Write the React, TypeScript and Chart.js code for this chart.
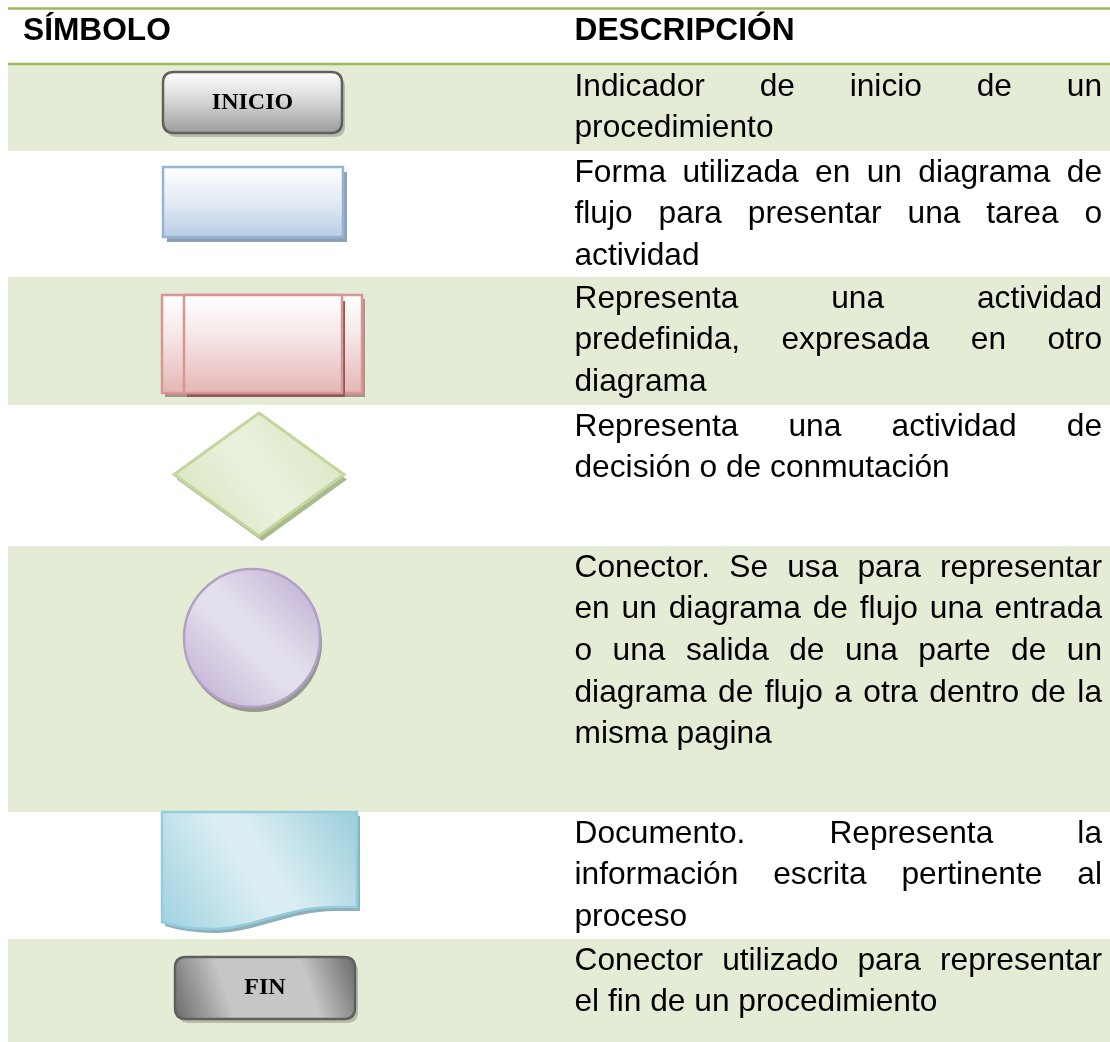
import React, { useEffect, useRef } from 'react';
import { Chart, registerables } from 'chart.js';

Chart.register(...registerables);

// ---------- DATA ----------
const headers = ['SÍMBOLO', 'DESCRIPCIÓN'];
const symbolKinds = ['inicio', 'proceso', 'predefinido', 'decision', 'conector', 'documento', 'fin'];
const symbolTexts = ['INICIO', '', '', '', '', '', 'FIN'];
const descriptions: string[][] = [
  ['Indicador de inicio de un', 'procedimiento'],
  ['Forma utilizada en un diagrama de', 'flujo para presentar una tarea o', 'actividad'],
  ['Representa una actividad', 'predefinida, expresada en otro', 'diagrama'],
  ['Representa una actividad de', 'decisión o de conmutación'],
  [
    'Conector. Se usa para representar',
    'en un diagrama de flujo una entrada',
    'o una salida de una parte de un',
    'diagrama de flujo a otra dentro de la',
    'misma pagina',
  ],
  ['Documento. Representa la', 'información escrita pertinente al', 'proceso'],
  ['Conector utilizado para representar', 'el fin de un procedimiento'],
];
const rowShaded = [true, false, true, false, true, false, true];

// ---------- LAYOUT (page units) ----------
const PAGE_W = 1110;
const PAGE_H = 1042;
const TABLE_LEFT = 8;
const TOP_RULE_Y = 8.5;
const HEADER_RULE_Y = 64;
const RULE_W = 2.5;
const ROW_EDGES = [65, 151, 277, 405, 546, 812, 939, 1042];
const HEADER_X = [23, 574.5];
const HEADER_BASELINE = 39.5;
const TEXT_LEFT = 574.5;
const TEXT_RIGHT = 1102;
const FIRST_BASELINE = 30.5;
const LINE_H = 41.7;
// symbol boxes [x0, y0, x1, y1]
const SYMBOL_BOX: number[][] = [
  [163, 72, 342, 133],
  [163, 167, 343, 237],
  [162, 295, 362, 393],
  [174, 413, 344, 536],
  [184, 569, 320, 707],
  [162, 812, 357, 929],
  [175, 957, 355, 1019],
];

const GREEN_RULE = '#9bbb59';
const ROW_GREEN = '#e4ecd6';
const FONT_BODY = '31.7px "Liberation Sans", Arial, sans-serif';
const FONT_HEAD = 'bold 31.7px "Liberation Sans", Arial, sans-serif';
const FONT_SYM = 'bold 24px "Liberation Serif", "Times New Roman", serif';

function roundRect(ctx: CanvasRenderingContext2D, x: number, y: number, w: number, h: number, r: number) {
  ctx.beginPath();
  ctx.moveTo(x + r, y);
  ctx.lineTo(x + w - r, y);
  ctx.quadraticCurveTo(x + w, y, x + w, y + r);
  ctx.lineTo(x + w, y + h - r);
  ctx.quadraticCurveTo(x + w, y + h, x + w - r, y + h);
  ctx.lineTo(x + r, y + h);
  ctx.quadraticCurveTo(x, y + h, x, y + h - r);
  ctx.lineTo(x, y + r);
  ctx.quadraticCurveTo(x, y, x + r, y);
  ctx.closePath();
}

function diagGrad(ctx: CanvasRenderingContext2D, x0: number, y0: number, x1: number, y1: number, edge: string, mid: string, edge2?: string) {
  const g = ctx.createLinearGradient(x0, y1, x1, y0);
  g.addColorStop(0, edge);
  g.addColorStop(0.45, mid);
  g.addColorStop(0.55, mid);
  g.addColorStop(1, edge2 || edge);
  return g;
}

function drawJustified(ctx: CanvasRenderingContext2D, line: string, x0: number, x1: number, y: number, justify: boolean) {
  const words = line.split(' ');
  if (!justify || words.length < 2) {
    ctx.fillText(line, x0, y);
    return;
  }
  const widths = words.map((w) => ctx.measureText(w).width);
  const total = widths.reduce((a, b) => a + b, 0);
  const gap = (x1 - x0 - total) / (words.length - 1);
  let x = x0;
  words.forEach((w, i) => {
    ctx.fillText(w, x, y);
    x += widths[i] + gap;
  });
}

function drawSymbol(ctx: CanvasRenderingContext2D, kind: string, label: string, x0: number, y0: number, x1: number, y1: number, cx: number, cy: number) {
  const w = x1 - x0;
  const h = y1 - y0;
  ctx.save();
  if (kind === 'inicio' || kind === 'fin') {
    ctx.fillStyle = 'rgba(0,0,0,0.2)';
    roundRect(ctx, x0 + 3, y0 + 4, w, h, 11);
    ctx.fill();
    let g: CanvasGradient;
    if (kind === 'inicio') {
      g = ctx.createLinearGradient(0, y0, 0, y1);
      g.addColorStop(0, '#fefefe');
      g.addColorStop(0.45, '#d9d9d9');
      g.addColorStop(1, '#9c9c9c');
    } else {
      g = ctx.createLinearGradient(x0, y1, x1, y0);
      g.addColorStop(0, '#6a6a6a');
      g.addColorStop(0.3, '#c6c6c6');
      g.addColorStop(0.72, '#c6c6c6');
      g.addColorStop(1, '#6a6a6a');
    }
    roundRect(ctx, x0, y0, w, h, 11);
    ctx.fillStyle = g;
    ctx.fill();
    ctx.lineWidth = 2.5;
    ctx.strokeStyle = '#5f5f5f';
    ctx.stroke();
    ctx.fillStyle = '#000';
    ctx.font = FONT_SYM;
    ctx.textAlign = 'center';
    ctx.textBaseline = 'alphabetic';
    ctx.fillText(label, cx, cy + 6);
  } else if (kind === 'proceso') {
    ctx.fillStyle = '#90a1b7';
    ctx.fillRect(x0 + 4, y0 + 5, w, h);
    const g = ctx.createLinearGradient(0, y0, 0, y1);
    g.addColorStop(0, '#ffffff');
    g.addColorStop(0.5, '#e3eaf4');
    g.addColorStop(1, '#b9cde5');
    ctx.fillStyle = g;
    ctx.fillRect(x0, y0, w, h);
    ctx.lineWidth = 2.5;
    ctx.strokeStyle = '#95b3d7';
    ctx.strokeRect(x0, y0, w, h);
  } else if (kind === 'predefinido') {
    const mkGrad = () => {
      const g = ctx.createLinearGradient(0, y0, 0, y1);
      g.addColorStop(0, '#ffffff');
      g.addColorStop(0.4, '#f6e8e8');
      g.addColorStop(1, '#e5b6b5');
      return g;
    };
    const ix0 = x0 + 22;
    const ix1 = x1 - 20;
    ctx.fillStyle = '#a99390';
    ctx.fillRect(x0 + 3, y0 + 4, w, h);
    ctx.fillStyle = mkGrad();
    ctx.fillRect(x0, y0, w, h);
    ctx.lineWidth = 2.5;
    ctx.strokeStyle = '#d99594';
    ctx.strokeRect(x0, y0, w, h);
    ctx.fillStyle = '#8c5a5a';
    ctx.fillRect(ix0 + 3, y0 + 6, ix1 - ix0, h - 2);
    ctx.fillStyle = mkGrad();
    ctx.fillRect(ix0, y0, ix1 - ix0, h);
    ctx.strokeRect(ix0, y0, ix1 - ix0, h);
  } else if (kind === 'decision') {
    const path = (dx: number, dy: number) => {
      ctx.beginPath();
      ctx.moveTo(cx + dx, y0 + dy);
      ctx.lineTo(x1 + dx, cy + dy);
      ctx.lineTo(cx + dx, y1 + dy);
      ctx.lineTo(x0 + dx, cy + dy);
      ctx.closePath();
    };
    path(3, 5);
    ctx.fillStyle = '#a9ba93';
    ctx.fill();
    path(0, 0);
    ctx.fillStyle = diagGrad(ctx, x0, y0, x1, y1, '#d3e2b7', '#e9f0dc', '#d6e4bc');
    ctx.fill();
    ctx.lineWidth = 3;
    ctx.strokeStyle = '#c3d69b';
    ctx.lineJoin = 'miter';
    ctx.stroke();
  } else if (kind === 'conector') {
    const rx = w / 2;
    const ry = h / 2;
    ctx.beginPath();
    ctx.ellipse(cx + 2, cy + 5, rx, ry, 0, 0, Math.PI * 2);
    ctx.fillStyle = 'rgba(70,70,70,0.5)';
    ctx.fill();
    ctx.beginPath();
    ctx.ellipse(cx, cy, rx, ry, 0, 0, Math.PI * 2);
    ctx.fillStyle = diagGrad(ctx, x0, y0, x1, y1, '#bcaad2', '#e4dfec', '#bba9d1');
    ctx.fill();
    ctx.lineWidth = 2.5;
    ctx.strokeStyle = '#b2a1c7';
    ctx.stroke();
  } else if (kind === 'documento') {
    const path = (dx: number, dy: number) => {
      ctx.beginPath();
      ctx.moveTo(x0 + dx, y0 + dy);
      ctx.lineTo(x1 + dx, y0 + dy);
      ctx.lineTo(x1 + dx, y1 - 22 + dy);
      ctx.lineTo(x1 - 24 + dx, y1 - 22 + dy);
      ctx.bezierCurveTo(x1 - 70 + dx, y1 - 22 + dy, x0 + 90 + dx, y1 + dy, x0 + 50 + dx, y1 + dy);
      ctx.quadraticCurveTo(x0 + 22 + dx, y1 + dy, x0 + dx, y1 - 7 + dy);
      ctx.closePath();
    };
    path(3, 4);
    ctx.fillStyle = '#8eafb9';
    ctx.fill();
    path(0, 0);
    ctx.fillStyle = diagGrad(ctx, x0, y0, x1, y1, '#9fd2df', '#dbeef3', '#9bcedb');
    ctx.fill();
    ctx.lineWidth = 2.5;
    ctx.strokeStyle = '#93cddd';
    ctx.stroke();
  }
  ctx.restore();
}

const tablePlugin = {
  id: 'flowTable',
  beforeDatasetsDraw(chart: any) {
    const ctx: CanvasRenderingContext2D = chart.ctx;
    const xs = chart.scales.x;
    const ys = chart.scales.y;
    const px = (v: number) => xs.getPixelForValue(v);
    const py = (v: number) => ys.getPixelForValue(v);
    ctx.save();
    for (let i = 0; i < rowShaded.length; i++) {
      if (!rowShaded[i]) continue;
      ctx.fillStyle = ROW_GREEN;
      ctx.fillRect(px(TABLE_LEFT), py(ROW_EDGES[i]), px(PAGE_W) - px(TABLE_LEFT), py(ROW_EDGES[i + 1]) - py(ROW_EDGES[i]));
    }
    ctx.fillStyle = GREEN_RULE;
    ctx.fillRect(px(TABLE_LEFT), py(TOP_RULE_Y) - RULE_W / 2, px(PAGE_W) - px(TABLE_LEFT), RULE_W);
    ctx.fillRect(px(TABLE_LEFT), py(HEADER_RULE_Y) - RULE_W / 2, px(PAGE_W) - px(TABLE_LEFT), RULE_W);
    ctx.fillStyle = '#000';
    ctx.textBaseline = 'alphabetic';
    ctx.textAlign = 'left';
    ctx.font = FONT_HEAD;
    headers.forEach((h, i) => ctx.fillText(h, px(HEADER_X[i]), py(HEADER_BASELINE)));
    ctx.font = FONT_BODY;
    descriptions.forEach((lines, r) => {
      lines.forEach((line, j) => {
        const y = py(ROW_EDGES[r] + FIRST_BASELINE + j * LINE_H);
        drawJustified(ctx, line, px(TEXT_LEFT), px(TEXT_RIGHT), y, j < lines.length - 1);
      });
    });
    ctx.restore();
  },
  afterDatasetsDraw(chart: any) {
    const ctx: CanvasRenderingContext2D = chart.ctx;
    const xs = chart.scales.x;
    const ys = chart.scales.y;
    const meta = chart.getDatasetMeta(0);
    symbolKinds.forEach((kind, i) => {
      const b = SYMBOL_BOX[i];
      const pt = meta.data[i];
      drawSymbol(
        ctx,
        kind,
        symbolTexts[i],
        xs.getPixelForValue(b[0]),
        ys.getPixelForValue(b[1]),
        xs.getPixelForValue(b[2]),
        ys.getPixelForValue(b[3]),
        pt.x,
        pt.y,
      );
    });
  },
};

export default function App() {
  const ref = useRef<HTMLCanvasElement | null>(null);
  useEffect(() => {
    document.body.style.margin = '0';
    document.body.style.overflow = 'hidden';
    const canvas = ref.current;
    if (!canvas) return;
    const centers = SYMBOL_BOX.map((b) => ({ x: (b[0] + b[2]) / 2, y: (b[1] + b[3]) / 2 }));
    const chart = new Chart(canvas, {
      type: 'scatter',
      data: {
        datasets: [
          {
            label: 'Símbolos',
            data: centers,
            pointRadius: 0,
            pointHoverRadius: 0,
          },
        ],
      },
      options: {
        animation: false,
        responsive: false,
        devicePixelRatio: 1,
        events: [],
        layout: { padding: 0 },
        plugins: { legend: { display: false }, tooltip: { enabled: false } },
        scales: {
          x: { type: 'linear', min: 0, max: PAGE_W, display: false },
          y: { type: 'linear', min: 0, max: PAGE_H, reverse: true, display: false },
        },
      },
      plugins: [tablePlugin],
    } as any);
    return () => chart.destroy();
  }, []);
  return (
    <div style={{ width: PAGE_W, height: PAGE_H, background: '#fff' }}>
      <canvas ref={ref} width={PAGE_W} height={PAGE_H} style={{ display: 'block' }} />
    </div>
  );
}
